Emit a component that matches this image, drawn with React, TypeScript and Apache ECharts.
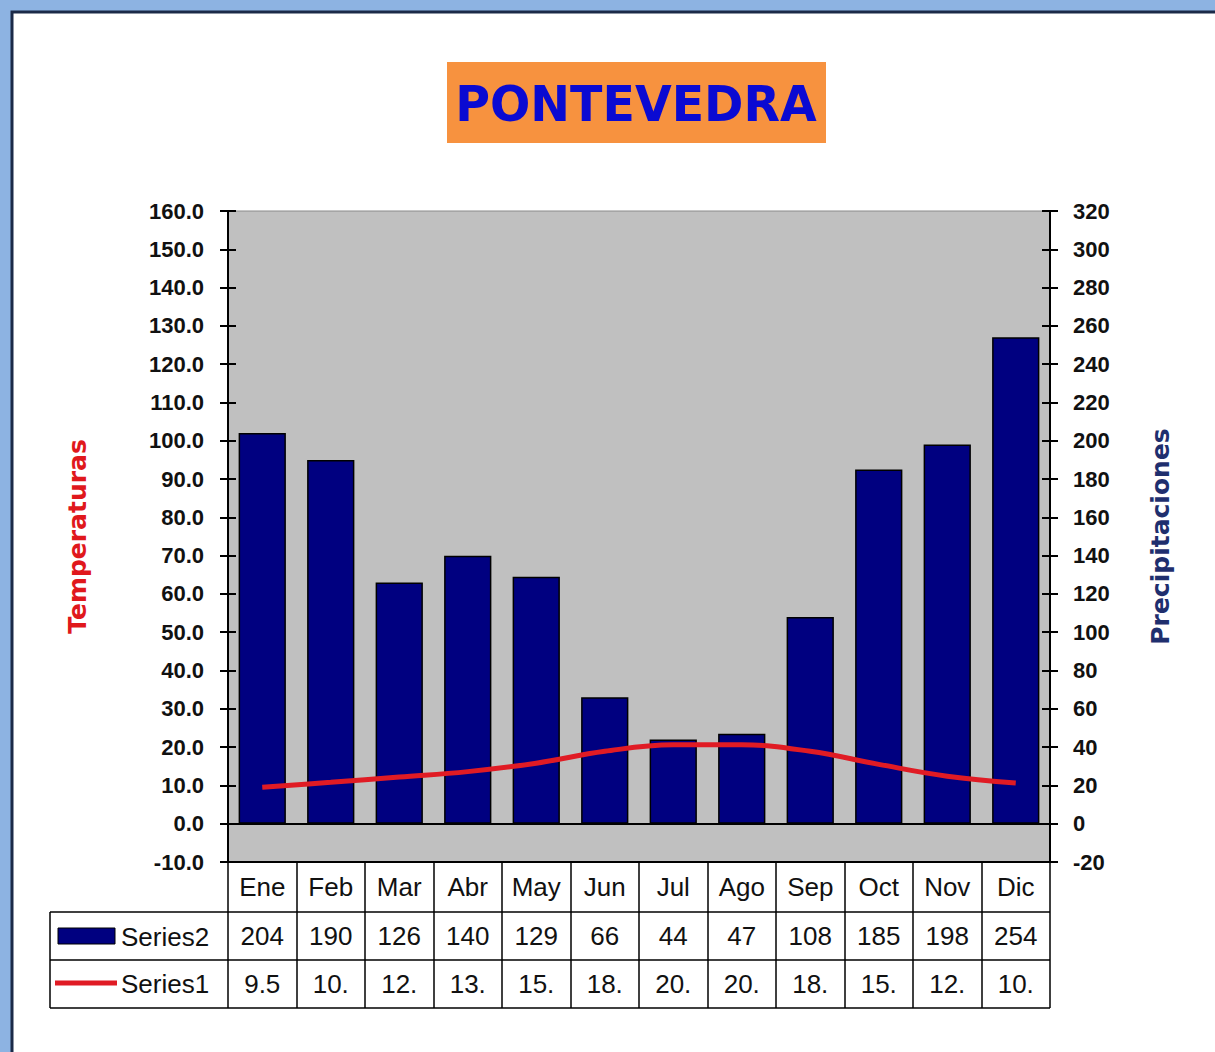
import React, { useEffect, useRef } from "react";
import * as echarts from "echarts";

const months = ["Ene", "Feb", "Mar", "Abr", "May", "Jun", "Jul", "Ago", "Sep", "Oct", "Nov", "Dic"];
const precipitaciones = [204, 190, 126, 140, 129, 66, 44, 47, 108, 185, 198, 254];
const temperaturas = [9.5, 10.8, 12.2, 13.6, 15.8, 18.9, 20.6, 20.6, 18.9, 15.5, 12.4, 10.6];
const leftMin = -10, leftMax = 160, leftStep = 10;
const rightMin = -20, rightMax = 320, rightStep = 20;
const titleText = "PONTEVEDRA";
const seriesNames = ["Series2", "Series1"];

// layout
const W = 1215, H = 1052;
const G_LEFT = 228, G_RIGHT = 1050, G_TOP = 211, G_BOTTOM = 862;
const ROW_H = [50, 48, 48];
const TABLE_LEFT = 50;

const BAR_COLOR = "#000080";
const LINE_COLOR = "#e01b24";
const FONT = "'Liberation Sans', Arial, sans-serif";
const FUN_FONT = "'DejaVu Sans', sans-serif";

export default function App() {
  const ref = useRef<HTMLDivElement>(null);
  useEffect(() => {
    document.body.style.margin = "0";
    const chart = echarts.init(ref.current!, null, { renderer: "svg" });
    const r1 = G_BOTTOM + ROW_H[0];
    const r2 = r1 + ROW_H[1];
    const r3 = r2 + ROW_H[2];
    const cellStyle = { fontSize: 26, color: "#111", fontFamily: FONT };
    const innerTicks = (min: number, max: number, step: number, position: string) => ({
      type: "value",
      min,
      max,
      interval: step,
      position,
      z: 5,
      axisLine: { show: false, onZero: false },
      axisTick: { show: true, inside: true, length: 8, lineStyle: { color: "#000", width: 2 } },
      axisLabel: { show: false },
      splitLine: { show: false },
    });
    chart.setOption({
      animation: false,
      backgroundColor: "#8db3e2",
      grid: {
        left: G_LEFT,
        right: W - G_RIGHT,
        top: G_TOP,
        bottom: H - G_BOTTOM,
        show: true,
        backgroundColor: "#c0c0c0",
        borderColor: "#8a8a8a",
        borderWidth: 1,
        z: 0,
      },
      xAxis: [
        {
          type: "category",
          data: months,
          position: "bottom",
          z: 4,
          axisLine: { onZero: true, onZeroAxisIndex: 0, lineStyle: { color: "#000", width: 2 } },
          axisTick: { show: false },
          axisLabel: { show: false },
          splitLine: { show: false },
        },
        {
          type: "category",
          data: months,
          position: "bottom",
          z: 4,
          axisLine: { onZero: false, lineStyle: { color: "#000", width: 2 } },
          axisTick: { show: true, length: ROW_H[0] + ROW_H[1] + ROW_H[2], lineStyle: { color: "#000", width: 1.5 } },
          axisLabel: { interval: 0, margin: 12, ...cellStyle },
        },
        {
          type: "category",
          data: months,
          position: "bottom",
          offset: ROW_H[0],
          axisLine: { show: false, onZero: false },
          axisTick: { show: false },
          axisLabel: { interval: 0, margin: 11, ...cellStyle, formatter: (_v: string, i: number) => String(precipitaciones[i]) },
        },
        {
          type: "category",
          data: months,
          position: "bottom",
          offset: ROW_H[0] + ROW_H[1],
          axisLine: { show: false, onZero: false },
          axisTick: { show: false },
          axisLabel: { interval: 0, margin: 11, ...cellStyle, formatter: (_v: string, i: number) => String(temperaturas[i]).slice(0, 3) },
        },
      ],
      yAxis: [
        {
          type: "value",
          min: leftMin,
          max: leftMax,
          interval: leftStep,
          position: "left",
          z: 4,
          name: "Temperaturas",
          nameLocation: "middle",
          nameGap: 138,
          nameTextStyle: { color: "#e0181c", fontSize: 25, fontWeight: "bold", fontFamily: FUN_FONT },
          axisLine: { show: true, onZero: false, lineStyle: { color: "#000", width: 2 } },
          axisTick: { show: true, length: 8, lineStyle: { color: "#000", width: 2 } },
          axisLabel: { formatter: (v: number) => v.toFixed(1), fontSize: 22, fontWeight: "bold", color: "#111", fontFamily: FONT, margin: 24 },
          splitLine: { show: false },
        },
        {
          type: "value",
          min: rightMin,
          max: rightMax,
          interval: rightStep,
          position: "right",
          z: 4,
          name: "Precipitaciones",
          nameLocation: "middle",
          nameGap: 98,
          nameTextStyle: { color: "#1f2f6e", fontSize: 25, fontWeight: "bold", fontFamily: FUN_FONT },
          axisLine: { show: true, onZero: false, lineStyle: { color: "#000", width: 2 } },
          axisTick: { show: true, length: 8, lineStyle: { color: "#000", width: 2 } },
          axisLabel: { fontSize: 22, fontWeight: "bold", color: "#111", fontFamily: FONT, margin: 23 },
          splitLine: { show: false },
        },
        innerTicks(leftMin, leftMax, leftStep, "left"),
        innerTicks(rightMin, rightMax, rightStep, "right"),
      ],
      series: [
        {
          name: seriesNames[0],
          type: "bar",
          xAxisIndex: 0,
          yAxisIndex: 1,
          data: precipitaciones,
          barCategoryGap: "31%",
          itemStyle: { color: BAR_COLOR, borderColor: "#000", borderWidth: 1.5 },
          z: 2,
        },
        {
          name: seriesNames[1],
          type: "line",
          xAxisIndex: 0,
          yAxisIndex: 0,
          data: temperaturas,
          smooth: 0.4,
          showSymbol: false,
          lineStyle: { color: LINE_COLOR, width: 5 },
          z: 3,
        },
      ],
      graphic: [
        {
          type: "rect",
          z: -10,
          silent: true,
          shape: { x: 12, y: 12, width: 1300, height: 1200 },
          style: { fill: "#ffffff", stroke: "#1b2a48", lineWidth: 3 },
        },
        {
          type: "rect",
          z: 10,
          shape: { x: 447, y: 62, width: 379, height: 81 },
          style: { fill: "#f7923f" },
        },
        {
          type: "text",
          z: 11,
          x: 636,
          y: 104,
          scaleX: 0.95,
          style: {
            text: titleText,
            fill: "#0a0ad2",
            font: `bold 50px ${FUN_FONT}`,
            align: "center",
            verticalAlign: "middle",
          },
        },
        // table borders
        {
          type: "line", z: 10,
          shape: { x1: TABLE_LEFT, y1: r1, x2: G_RIGHT, y2: r1 },
          style: { stroke: "#000", lineWidth: 1.5 },
        },
        {
          type: "line", z: 10,
          shape: { x1: TABLE_LEFT, y1: r2, x2: G_RIGHT, y2: r2 },
          style: { stroke: "#000", lineWidth: 1.5 },
        },
        {
          type: "line", z: 10,
          shape: { x1: TABLE_LEFT, y1: r3, x2: G_RIGHT, y2: r3 },
          style: { stroke: "#000", lineWidth: 1.5 },
        },
        {
          type: "line", z: 10,
          shape: { x1: TABLE_LEFT, y1: r1, x2: TABLE_LEFT, y2: r3 },
          style: { stroke: "#000", lineWidth: 1.5 },
        },
        // legend keys
        {
          type: "rect", z: 10,
          shape: { x: 58, y: r1 + 16, width: 57, height: 16 },
          style: { fill: BAR_COLOR, stroke: "#000", lineWidth: 1 },
        },
        {
          type: "text", z: 10,
          x: 121, y: r1 + ROW_H[1] / 2 + 1,
          style: { text: seriesNames[0], font: `26px ${FONT}`, fill: "#111", verticalAlign: "middle" },
        },
        {
          type: "line", z: 10,
          shape: { x1: 55, y1: r2 + 23, x2: 117, y2: r2 + 23 },
          style: { stroke: LINE_COLOR, lineWidth: 5 },
        },
        {
          type: "text", z: 10,
          x: 121, y: r2 + ROW_H[2] / 2,
          style: { text: seriesNames[1], font: `26px ${FONT}`, fill: "#111", verticalAlign: "middle" },
        },
      ],
    });
    return () => chart.dispose();
  }, []);
  return <div ref={ref} style={{ width: W, height: H }} />;
}
